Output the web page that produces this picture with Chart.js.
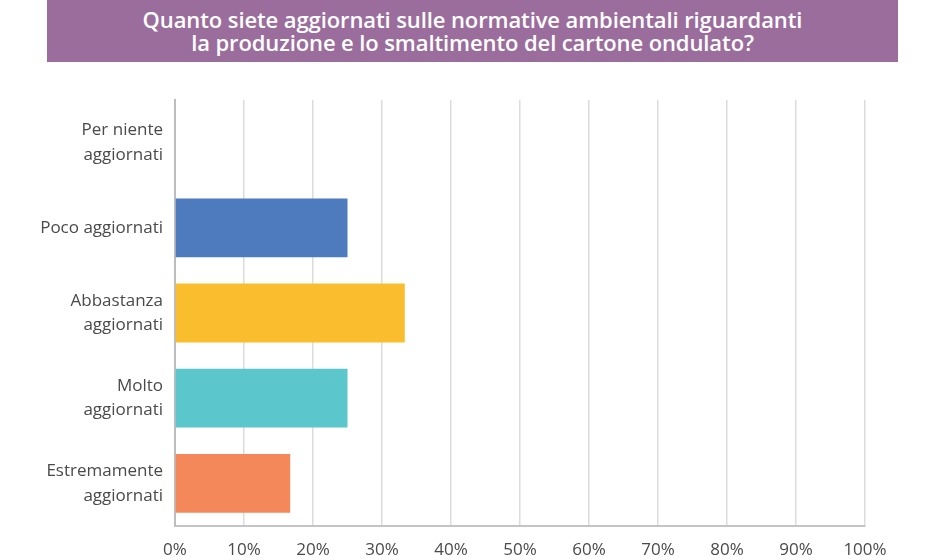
<!DOCTYPE html>
<html>
<head>
<meta charset="utf-8">
<script src="https://cdn.jsdelivr.net/npm/chart.js@4.4.0/dist/chart.umd.min.js"></script>
<style>
  html, body { margin: 0; padding: 0; background: #fff; }
  #wrap { position: relative; width: 952px; height: 560px; }
  #banner {
    position: absolute; left: 47px; top: 0; width: 851px; height: 62px;
    background: #9b6d9d; color: #fff; text-align: center;
    font-family: "Open Sans", sans-serif; font-weight: 600; font-size: 22px;
    line-height: 23px; padding-top: 8px; box-sizing: border-box;
    letter-spacing: -0.1px;
  }
  canvas { position: absolute; left: 0; top: 0; }
</style>
</head>
<body>
<div id="wrap">
  <canvas id="chart" width="952" height="560"></canvas>
  <div id="banner">Quanto siete aggiornati sulle normative ambientali riguardanti<br>la produzione e lo smaltimento del cartone ondulato?</div>
</div>
<script>
// answers, top to bottom
const categories = [
  ['Per niente', 'aggiornati'],
  'Poco aggiornati',
  ['Abbastanza', 'aggiornati'],
  ['Molto', 'aggiornati'],
  ['Estremamente', 'aggiornati']
];
const shares = [0, 25, 33.3, 25, 16.7]; // percent
const barColors = ['#9b6d9d', '#4e7bbd', '#f9bd2e', '#5bc6cc', '#f5885a'];
const xTicks = [0, 10, 20, 30, 40, 50, 60, 70, 80, 90, 100];

let context = document.querySelector('#chart');

let graph = new Chart(context, {
    type: 'bar',
    data: {
        labels: categories,
        datasets: [{
            data: shares,
            backgroundColor: barColors,
            barPercentage: 0.69,
            categoryPercentage: 1
        }]
    },
    options: {
        indexAxis: 'y',
        responsive: false,
        animation: false,
        layout: { padding: { top: 100, right: 87, bottom: 0, left: 0 } },
        plugins: {
            legend: { display: false },
            tooltip: { enabled: false }
        },
        scales: {
            x: {
                min: 0,
                max: 100,
                afterBuildTicks: (scale) => {
                    scale.ticks = xTicks.map(v => ({ value: v }));
                },
                afterFit: (scale) => { scale.height = 34; },
                grid: { color: '#dcdcdc', lineWidth: 1.5, drawTicks: false },
                border: { display: true, color: '#c4c4c4', width: 2 },
                ticks: {
                    padding: 14,
                    color: '#4a4a4a',
                    font: { family: 'Open Sans', size: 17 },
                    callback: (v) => v + '%'
                }
            },
            y: {
                afterFit: (scale) => { scale.width = 175; },
                grid: { display: false },
                border: { display: true, color: '#bdbdbd', width: 2 },
                ticks: {
                    padding: 4,
                    color: '#4a4a4a',
                    font: { family: 'Open Sans', size: 17, lineHeight: 1.45 }
                }
            }
        }
    }
});
</script>
</body>
</html>
